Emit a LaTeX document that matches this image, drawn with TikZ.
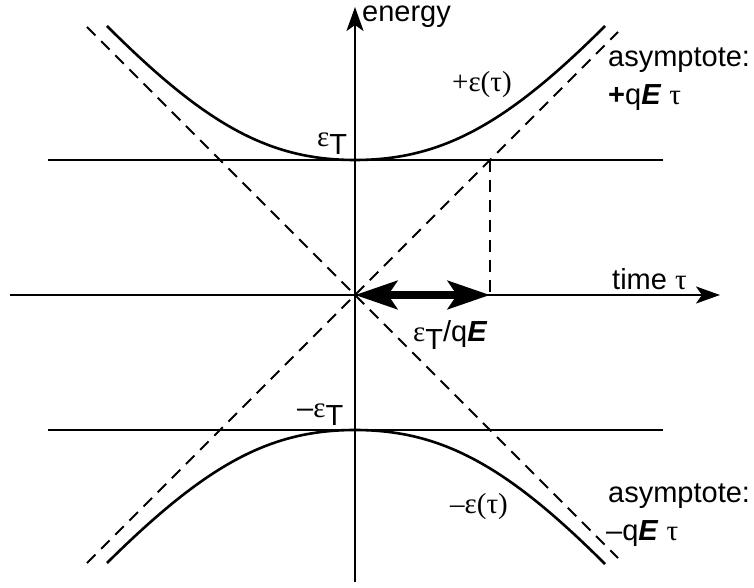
\documentclass[tikz,border=0pt]{standalone}
\usepackage{fontspec}
\setmainfont{Liberation Sans}
\newfontfamily\grk{Liberation Serif}
\usetikzlibrary{arrows.meta}

\newcommand{\epsT}{{\grk ε}\raisebox{-8pt}{T}}
\newcommand{\qE}{q\textbf{\textit{E}}}

\begin{document}
\begin{tikzpicture}[x=1pt, y=1pt,
    every node/.style={font=\fontsize{29}{34}\selectfont, inner sep=0pt, anchor=base west},
    axis/.style={line width=2.6pt, -{Stealth[length=24pt, width=17pt, inset=6pt]}},
    level/.style={line width=2pt},
    guide/.style={line width=2pt, dash pattern=on 12pt off 8pt},
    branch/.style={line width=2.6pt}]
    \useasboundingbox (-355,-293) rectangle (399,295);

    % axes
    \coordinate (O) at (0,0);
    \coordinate (tstart) at (-345,0);
    \coordinate (tend) at (365,0);
    \coordinate (estart) at (0,-287);
    \coordinate (eend) at (0,288);
    \draw[axis] (tstart) -- (tend);
    \draw[axis] (estart) -- (eend);

    % levels +eps_T and -eps_T
    \coordinate (upl) at (-307,135);
    \coordinate (upr) at (308,135);
    \coordinate (lol) at (-307,-135);
    \coordinate (lor) at (308,-135);
    \draw[level] (upl) -- (upr);
    \draw[level] (lol) -- (lor);

    % asymptotes
    \coordinate (a1) at (-268,268);
    \coordinate (a2) at (263,-263);
    \coordinate (a3) at (-268,-268);
    \coordinate (a4) at (263,263);
    \coordinate (cross) at (135,135);
    \coordinate (foot) at (135,0);
    \draw[guide] (a1) -- (a2);
    \draw[guide] (a3) -- (a4);
    \draw[guide] (cross) -- (foot);

    % branches
    \coordinate (vtop) at (0,135);
    \coordinate (vbot) at (0,-135);
    \draw[branch] (-248,269) .. controls (-148,169) and (-85,135) .. (vtop)
        .. controls (85,135) and (150,169) .. (250,269);
    \draw[branch] (-248,-268) .. controls (-148,-169) and (-85,-135) .. (vbot)
        .. controls (85,-135) and (150,-169) .. (250,-269);

    % eps_T / qE
    \draw[line width=8pt, {Stealth[length=42pt, width=28pt, inset=9pt]}-{Stealth[length=42pt, width=28pt, inset=9pt]}] (O) -- (foot);

    % labels
    \node (energy) at (7,273) {energy};
    \node (time) at (257,5) {time {\grk τ}};
    \node (epsup) at (-38,148) {\epsT};
    \node (epslo) at (-58,-122) {–\epsT};
    \node (plus) at (97,203) {\grk +ε(τ)};
    \node (minus) at (95,-218) {\grk –ε(τ)};
    \node (gap) at (58,-47) {\epsT/\qE};
    \node (asyup) at (253,228) {asymptote:};
    \node (asyupf) at (253,190) {\textbf{+}\qE\ {\grk τ}};
    \node (asylo) at (253,-207) {asymptote:};
    \node (asylof) at (251,-245) {–\qE\ {\grk τ}};
\end{tikzpicture}
\end{document}
